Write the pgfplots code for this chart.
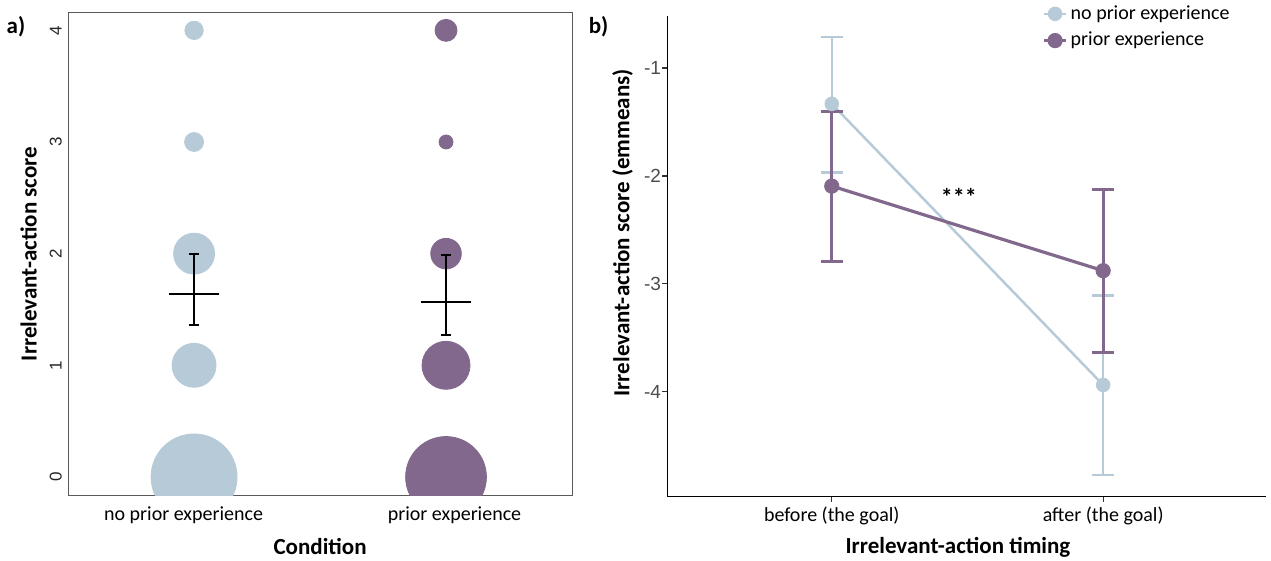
\documentclass[border=0pt]{standalone}
\usepackage{fontspec}
\setmainfont{Carlito}
\newfontfamily\arialf{Liberation Sans}
\usepackage{pgfplots}
\pgfplotsset{compat=1.18}
\definecolor{bluec}{RGB}{183,202,215}
\definecolor{purpc}{RGB}{130,104,140}
\begin{document}
\begin{tikzpicture}
\useasboundingbox (0,0) rectangle (635.5pt,280.5pt);
% ---------------- panel a ----------------
\begin{axis}[
  at={(34.05pt,32.75pt)}, anchor=south west, scale only axis,
  width=251.95pt, height=241.5pt,
  xmin=0.5, xmax=2.5, ymin=-0.166, ymax=4.16,
  xtick={1,2},
  xticklabels={{\hspace*{-10.5pt}no prior experience},{prior experience\hspace*{-8.5pt}}},
  ytick={0,1,2,3,4}, yticklabels={0,1,2,3,4},
  major tick length=0pt,
  axis line style={draw=black!65, line width=0.5pt},
  xticklabel style={anchor=base, font=\fontsize{10}{12}\selectfont, inner sep=0pt},
  xticklabel shift=12.75pt,
  yticklabel style={rotate=90, anchor=south, inner sep=0pt, font=\arialf\fontsize{8.5}{10}\selectfont, text=black!85},
  yticklabel shift=3pt,
  xlabel={Condition},
  xlabel style={at={(axis description cs:0.5,0)}, anchor=center, yshift=-25.75pt, font=\bfseries\fontsize{11.5}{13}\selectfont},
  ylabel={Irrelevant-action score},
  ylabel style={at={(axis description cs:-0.0782,0.5)}, anchor=center, font=\bfseries\fontsize{11.5}{13}\selectfont},
  clip marker paths=true,
]
% bubbles: no prior experience (radius in pt)
\addplot[only marks, mark=*, bluec, mark size=21.5pt] coordinates {(1,0)};
\addplot[only marks, mark=*, bluec, mark size=11pt] coordinates {(1,1)};
\addplot[only marks, mark=*, bluec, mark size=10.25pt] coordinates {(1,2)};
\addplot[only marks, mark=*, bluec, mark size=4.75pt] coordinates {(1,3)};
\addplot[only marks, mark=*, bluec, mark size=4.6pt] coordinates {(1,4)};
% bubbles: prior experience
\addplot[only marks, mark=*, purpc, mark size=20.2pt] coordinates {(2,0)};
\addplot[only marks, mark=*, purpc, mark size=12pt] coordinates {(2,1)};
\addplot[only marks, mark=*, purpc, mark size=7.65pt] coordinates {(2,2)};
\addplot[only marks, mark=*, purpc, mark size=3.5pt] coordinates {(2,3)};
\addplot[only marks, mark=*, purpc, mark size=5.5pt] coordinates {(2,4)};
% mean +- SE
\addplot[only marks, black, mark=-, mark size=12.65pt, mark options={line width=1pt},
  error bars/.cd, y dir=both, y explicit,
  error bar style={line width=1pt, black},
  error mark options={rotate=90, mark size=2.6pt, line width=1pt, black}]
coordinates {(1,1.639) += (0,0.361) -= (0,0.276) (2,1.565) += (0,0.425) -= (0,0.298)};
\end{axis}
% ---------------- panel b ----------------
\begin{axis}[
  at={(333.65pt,32.2pt)}, anchor=south west, scale only axis,
  width=299.35pt, height=240.3pt,
  xmin=0.394, xmax=2.6, ymin=-4.971, ymax=-0.518,
  axis x line*=bottom, axis y line*=left,
  axis line style={line width=0.75pt, black, -},
  xtick={1,2}, xticklabels={before (the goal), after (the goal)},
  ytick={-4,-3,-2,-1}, yticklabels={-4,-3,-2,-1},
  tick align=outside, major tick length=2.5pt, tick style={line width=0.6pt, black!80},
  xticklabel style={anchor=base, font=\fontsize{10}{12}\selectfont, inner sep=0pt},
  xticklabel shift=10.2pt,
  yticklabel style={anchor=east, inner sep=0pt, font=\arialf\fontsize{9.5}{11}\selectfont, text=black!70},
  yticklabel shift=0.5pt,
  xlabel={Irrelevant-action timing},
  xlabel style={at={(axis description cs:0.4855,0)}, anchor=center, yshift=-25.2pt, font=\bfseries\fontsize{11.5}{13}\selectfont},
  ylabel={Irrelevant-action score (emmeans)},
  ylabel style={at={(axis description cs:-0.0747,0.549)}, anchor=center, font=\bfseries\fontsize{11.5}{13}\selectfont},
  clip=false,
  legend cell align=left,
  legend style={at={(axis description cs:0.626,1.029)}, anchor=north west, draw=none, fill=none,
    inner sep=0pt, row sep=2pt, font=\fontsize{10}{12}\selectfont,
    nodes={inner sep=1.5pt}},
  legend image code/.code={\draw[mark repeat=2, mark phase=2, #1] plot coordinates {(0pt,0pt) (5.5pt,0pt) (11pt,0pt)};},
]
\addplot[bluec, line width=1.25pt, mark=*, mark size=3pt, mark options={solid, fill=bluec},
  error bars/.cd, y dir=both, y explicit,
  error bar style={line width=1.25pt, bluec},
  error mark options={rotate=90, mark size=5.4pt, line width=1.25pt, bluec}]
coordinates {(1,-1.332) += (0,0.62) -= (0,0.636) (2,-3.937) += (0,0.829) -= (0,0.832)};
\addlegendentry{no prior experience}
\addplot[purpc, line width=1.6pt, mark=*, mark size=3pt, mark options={solid, fill=purpc},
  error bars/.cd, y dir=both, y explicit,
  error bar style={line width=1.5pt, purpc},
  error mark options={rotate=90, mark size=5.4pt, line width=1.5pt, purpc}]
coordinates {(1,-2.094) += (0,0.693) -= (0,0.699) (2,-2.878) += (0,0.754) -= (0,0.759)};
\addlegendentry{prior experience}
\node[anchor=base, font=\bfseries\fontsize{12}{14}\selectfont] at (axis cs:1.468,-2.27) {***};
\end{axis}
\node[font=\bfseries\fontsize{11.5}{13}\selectfont] at (8pt,267pt) {a)};
\node[font=\bfseries\fontsize{11.5}{13}\selectfont] at (299.3pt,267pt) {b)};
\end{tikzpicture}
\end{document}
